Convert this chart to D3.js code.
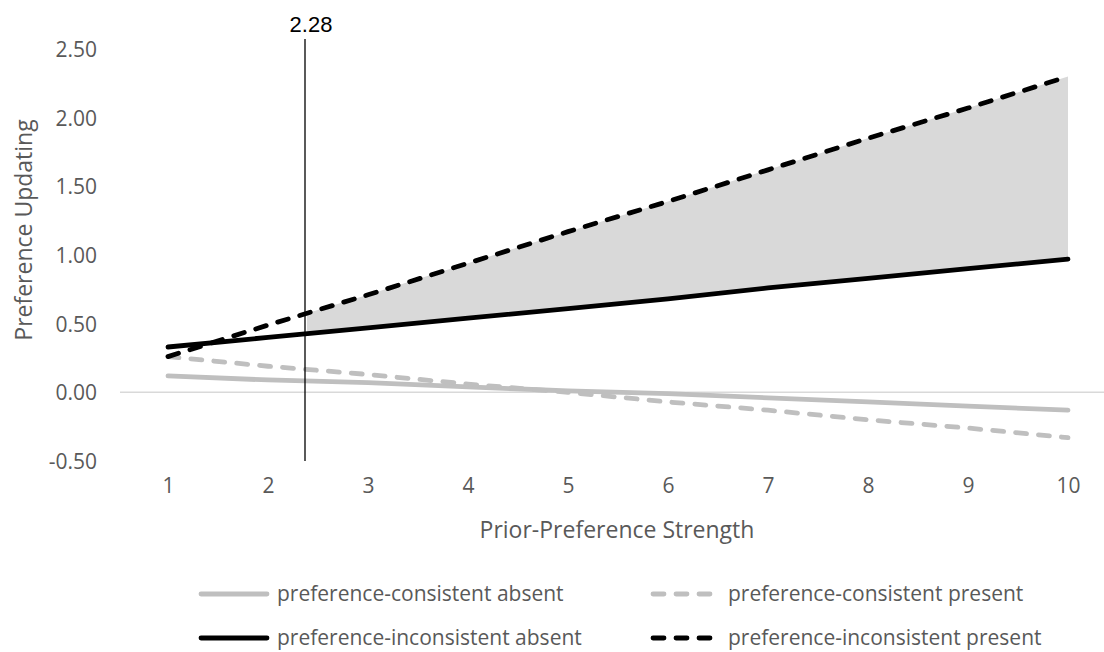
<!DOCTYPE html>
<html>
<head>
<meta charset="utf-8">
<script src="https://cdn.jsdelivr.net/npm/d3@7"></script>
<style>
  html, body { margin: 0; padding: 0; background: #fff; }
  svg { display: block; font-family: 'Open Sans', sans-serif; }
</style>
</head>
<body>
<div id="chart"></div>
<script>
// categories on the x axis
const strength = [1, 2, 3, 4, 5, 6, 7, 8, 9, 10];

// series values
const consistentAbsent = [0.12, 0.09, 0.07, 0.04, 0.01, -0.01, -0.04, -0.07, -0.10, -0.13];
const consistentPresent = [0.26, 0.19, 0.13, 0.06, 0.00, -0.07, -0.13, -0.20, -0.26, -0.33];
const inconsistentAbsent = [0.33, 0.40, 0.47, 0.54, 0.61, 0.68, 0.76, 0.83, 0.90, 0.97];
const inconsistentPresent = [0.26, 0.49, 0.71, 0.94, 1.17, 1.39, 1.62, 1.85, 2.07, 2.30];

const seriesNames = [
  'preference-consistent absent',
  'preference-consistent present',
  'preference-inconsistent absent',
  'preference-inconsistent present',
];
const seriesValues = [consistentAbsent, consistentPresent, inconsistentAbsent, inconsistentPresent];

const yTicks = [-0.5, 0, 0.5, 1, 1.5, 2, 2.5];

// region-of-significance marker
const markerPos = 2.37;
const markerLabel = '2.28';

const width = 1104;
const height = 652;

const svg = d3.select('#chart')
  .append('svg')
  .attr('width', width)
  .attr('height', height);

const x = d3.scaleLinear().domain([1, 10]).range([168, 1068]);
const y = d3.scaleLinear().domain([-0.5, 2.5]).range([461, 49]);

const style = {
  'preference-consistent absent': { color: '#bfbfbf', dash: null },
  'preference-consistent present': { color: '#bfbfbf', dash: '11 12' },
  'preference-inconsistent absent': { color: '#000000', dash: null },
  'preference-inconsistent present': { color: '#000000', dash: '11 12' },
};

// shaded band between the two inconsistent lines, right of the marker
svg.append('clipPath')
  .attr('id', 'bandClip')
  .append('rect')
  .attr('x', x(markerPos) + 2)
  .attr('y', 0)
  .attr('width', width)
  .attr('height', height);

const band = d3.area()
  .x((d, i) => x(strength[i]))
  .y0((d, i) => y(inconsistentAbsent[i]))
  .y1((d, i) => y(inconsistentPresent[i]));

svg.append('path')
  .datum(strength)
  .attr('clip-path', 'url(#bandClip)')
  .attr('fill', '#d9d9d9')
  .attr('d', band);

// zero line
svg.append('line')
  .attr('x1', 120)
  .attr('x2', width)
  .attr('y1', y(0))
  .attr('y2', y(0))
  .attr('stroke', '#d9d9d9')
  .attr('stroke-width', 1.5);

// y axis labels (plain hyphen for negatives, like the original)
const fmt = d3.format('.2f');
const yAxis = svg.append('g')
  .attr('transform', 'translate(97,0)')
  .call(d3.axisLeft(y).tickValues(yTicks).tickSize(0).tickPadding(0)
    .tickFormat((d) => fmt(d).replace('\u2212', '-')));
yAxis.select('.domain').remove();
yAxis.selectAll('text')
  .attr('font-family', "'Open Sans', sans-serif")
  .attr('font-size', 21)
  .attr('fill', '#595959')
  .attr('dy', '0.36em');

// x axis labels
const xAxis = svg.append('g')
  .attr('transform', 'translate(0,478)')
  .call(d3.axisBottom(x).tickValues(strength).tickSize(0).tickPadding(0).tickFormat(d3.format('d')));
xAxis.select('.domain').remove();
xAxis.selectAll('text')
  .attr('font-family', "'Open Sans', sans-serif")
  .attr('font-size', 21)
  .attr('fill', '#595959');

// axis titles
svg.append('text')
  .attr('transform', 'translate(32,230) rotate(-90)')
  .attr('text-anchor', 'middle')
  .attr('font-size', 23)
  .attr('fill', '#595959')
  .text('Preference Updating');

svg.append('text')
  .attr('x', 617)
  .attr('y', 538)
  .attr('text-anchor', 'middle')
  .attr('font-size', 23)
  .attr('fill', '#595959')
  .text('Prior-Preference Strength');

// series lines
const line = d3.line()
  .x((d, i) => x(strength[i]))
  .y((d) => y(d));

seriesNames.forEach((name, k) => {
  svg.append('path')
    .datum(seriesValues[k])
    .attr('fill', 'none')
    .attr('stroke', style[name].color)
    .attr('stroke-width', 4.8)
    .attr('stroke-linecap', 'round')
    .attr('stroke-dasharray', style[name].dash)
    .attr('d', line);
});

// marker line + label
svg.append('line')
  .attr('x1', x(markerPos))
  .attr('x2', x(markerPos))
  .attr('y1', 39)
  .attr('y2', y(-0.5))
  .attr('stroke', '#000')
  .attr('stroke-width', 1.3);

svg.append('text')
  .attr('x', x(markerPos) + 6)
  .attr('y', 32)
  .attr('text-anchor', 'middle')
  .attr('font-family', "'Liberation Sans', Arial, sans-serif")
  .attr('font-size', 22)
  .attr('fill', '#000')
  .text(markerLabel);

// legend, two columns x two rows
const legendCols = [{ x1: 201, x2: 267, tx: 277 }, { x1: 653, x2: 713, tx: 728 }];
const legendRows = [594, 638];
const legendOrder = [
  [0, 0, 0], [1, 1, 0],
  [2, 0, 1], [3, 1, 1],
];

legendOrder.forEach(([k, c, r]) => {
  const name = seriesNames[k];
  const g = svg.append('g');
  g.append('line')
    .attr('x1', legendCols[c].x1)
    .attr('x2', legendCols[c].x2)
    .attr('y1', legendRows[r])
    .attr('y2', legendRows[r])
    .attr('stroke', style[name].color)
    .attr('stroke-width', 4.8)
    .attr('stroke-linecap', 'round')
    .attr('stroke-dasharray', style[name].dash);
  g.append('text')
    .attr('x', legendCols[c].tx)
    .attr('y', legendRows[r])
    .attr('dy', '0.33em')
    .attr('font-size', 21)
    .attr('fill', '#595959')
    .text(name);
});
</script>
</body>
</html>
